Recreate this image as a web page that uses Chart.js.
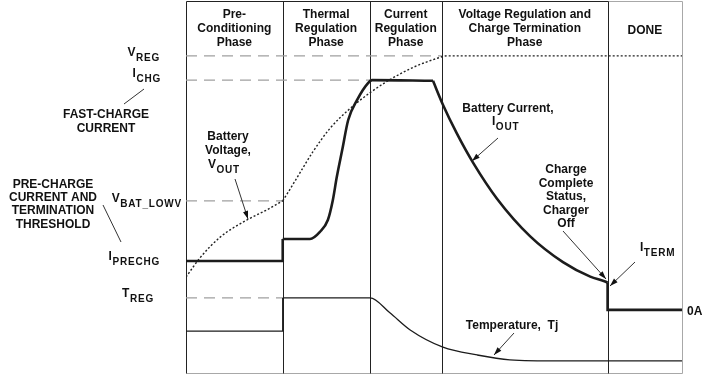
<!DOCTYPE html>
<html>
<head>
<meta charset="utf-8">
<script src="https://cdn.jsdelivr.net/npm/chart.js@4.4.1/dist/chart.umd.min.js"></script>
<style>
  html, body { margin: 0; padding: 0; background: #fff; }
  #wrap { width: 710px; height: 375px; position: relative; }
</style>
</head>
<body>
<div id="wrap"><canvas id="profile"></canvas></div>
<script>
// Time axis runs 0..100, level axis runs 0..100 (schematic units)
const phaseEdges = [0, 19.5, 37, 51.6, 85, 100];
const phaseTitles = [
    ["Pre-", "Conditioning", "Phase"],
    ["Thermal", "Regulation", "Phase"],
    ["Current", "Regulation", "Phase"],
    ["Voltage Regulation and", "Charge Termination", "Phase"],
    ["DONE"]
];

// Threshold levels and where their dashed guide stops
const levelMain = ["V", "I", "V", "I", "T"];
const levelSub = ["REG", "CHG", "BAT_LOWV", "PRECHG", "REG"];
const levelValues = [85.3, 78.8, 46.4, 30.3, 20.4];
const levelGuideEnd = [51.6, 37.5, 19.5, 0, 19.5];

// Battery current, I_OUT
const curPreX = [0, 19.5, 19.5];
const curPreY = [30.3, 30.3, 36.2];
const curRiseX = [19.5, 25, 27.0, 28.6, 29.6, 30.4, 31.5, 32.7, 34.5, 36.7, 37.5, 49.8];
const curRiseY = [36.2, 36.2, 38.1, 41.3, 46.6, 52.8, 60.1, 68.1, 73.5, 78.0, 78.8, 78.6];
const curTaperX = [49.8, 51.8, 54.6, 57.9, 62.7, 69.4, 76.0, 81.5, 84.5, 85];
const curTaperY = [78.6, 72.2, 64.5, 56.6, 47.0, 36.9, 30.0, 26.1, 24.8, 24.5];
const curDoneX = [85, 85, 100];
const curDoneY = [24.5, 17.2, 17.2];

// Battery voltage, V_OUT
const voltPreX = [0, 2.8, 6.9, 12.3, 16.3, 19.5];
const voltPreY = [26.0, 31.1, 36.7, 41.3, 44.0, 46.4];
const voltFastX = [19.5, 21.0, 23.0, 25.6, 29.0, 33.1, 37.1, 41.1, 45.8, 50.6, 52.6, 100];
const voltFastY = [46.4, 49.6, 54.0, 59.6, 65.8, 71.2, 75.4, 78.9, 82.2, 84.6, 85.3, 85.3];

// Temperature, Tj
const tempPreX = [0, 19.5, 19.5];
const tempPreY = [11.5, 11.5, 20.4];
const tempCoolX = [19.5, 37.1, 41.1, 45.2, 51.8, 58.7, 65.3, 75.4, 100];
const tempCoolY = [20.4, 20.4, 16.4, 11.8, 7.2, 5.1, 3.8, 3.5, 3.5];

function series(xs, ys, style) {
    return Object.assign({
        data: xs.map((x, i) => ({ x: x, y: ys[i] })),
        pointRadius: 0,
        fill: false,
        tension: 0
    }, style);
}

const thick = { borderColor: "#1c1c1c", borderWidth: 2.6 };
const thickCurve = { borderColor: "#1c1c1c", borderWidth: 2.6, cubicInterpolationMode: "monotone" };
const dotted = { borderColor: "#222", borderWidth: 1.4, borderDash: [2, 2], cubicInterpolationMode: "monotone" };
const thin = { borderColor: "#1c1c1c", borderWidth: 1.3 };
const thinCurve = { borderColor: "#1c1c1c", borderWidth: 1.3, cubicInterpolationMode: "monotone" };

const datasets = [
    series(curPreX, curPreY, thick),
    series(curRiseX, curRiseY, thickCurve),
    series(curTaperX, curTaperY, thickCurve),
    series(curDoneX, curDoneY, thick),
    series(voltPreX, voltPreY, dotted),
    series(voltFastX, voltFastY, dotted),
    series(tempPreX, tempPreY, thin),
    series(tempCoolX, tempCoolY, thinCurve)
];

// Dashed guides for the thresholds
levelValues.forEach((v, i) => {
    if (levelGuideEnd[i] > 0) {
        datasets.push(series([0, levelGuideEnd[i]], [v, v], {
            borderColor: "#a0a0a0", borderWidth: 1.3, borderDash: [11, 7]
        }));
    }
});

const BOLD = "bold 12px 'Liberation Sans', Arial, sans-serif";
const SUB = "bold 10px 'Liberation Sans', Arial, sans-serif";

function text(ctx, s, x, y, align, font) {
    ctx.font = font || BOLD;
    ctx.textAlign = align || "center";
    ctx.textBaseline = "alphabetic";
    ctx.fillText(s, x, y);
}

// letter with a subscript, x = left edge
function subText(ctx, main, sub, x, y) {
    ctx.font = BOLD;
    ctx.letterSpacing = "0px";
    ctx.textAlign = "left";
    ctx.fillText(main, x, y);
    const w = ctx.measureText(main).width;
    ctx.font = SUB;
    ctx.letterSpacing = "0.8px";
    ctx.fillText(sub, x + w + 0.5, y + 5);
    ctx.letterSpacing = "0px";
}

function subWidth(ctx, main, sub) {
    ctx.font = BOLD;
    const w = ctx.measureText(main).width;
    ctx.font = SUB;
    ctx.letterSpacing = "0.8px";
    const w2 = ctx.measureText(sub).width;
    ctx.letterSpacing = "0px";
    return w + 0.5 + w2;
}

function line(ctx, x1, y1, x2, y2) {
    ctx.beginPath();
    ctx.moveTo(x1, y1);
    ctx.lineTo(x2, y2);
    ctx.stroke();
}

function arrow(ctx, x1, y1, x2, y2) {
    line(ctx, x1, y1, x2, y2);
    const a = Math.atan2(y2 - y1, x2 - x1);
    ctx.beginPath();
    ctx.moveTo(x2, y2);
    ctx.lineTo(x2 - 8 * Math.cos(a) + 2.6 * Math.sin(a), y2 - 8 * Math.sin(a) - 2.6 * Math.cos(a));
    ctx.lineTo(x2 - 8 * Math.cos(a) - 2.6 * Math.sin(a), y2 - 8 * Math.sin(a) + 2.6 * Math.cos(a));
    ctx.closePath();
    ctx.fill();
}

const framePlugin = {
    id: "frame",
    beforeDatasetsDraw(chart) {
        const { ctx, chartArea: a, scales: { x } } = chart;
        const px = v => Math.round(x.getPixelForValue(v)) + 0.5;
        const top = Math.round(a.top) + 0.5;
        const bottom = Math.round(a.bottom) - 0.5;
        ctx.save();
        ctx.lineWidth = 1;
        ctx.strokeStyle = "#a8a8a8";
        line(ctx, px(85), top, px(100), top);
        line(ctx, px(100), top, px(100), bottom);
        line(ctx, px(0), bottom, px(100), bottom);
        ctx.strokeStyle = "#222";
        line(ctx, px(0), top, px(85), top);
        for (let i = 0; i < phaseEdges.length - 1; i++) {
            line(ctx, px(phaseEdges[i]), top, px(phaseEdges[i]), bottom);
        }
        ctx.restore();
    },
    afterDraw(chart) {
        const { ctx, scales: { x, y } } = chart;
        ctx.save();
        ctx.fillStyle = "#111";
        ctx.strokeStyle = "#333";
        ctx.lineWidth = 1;

        // phase headers
        phaseTitles.forEach((lines, i) => {
            const cx = (x.getPixelForValue(phaseEdges[i]) + x.getPixelForValue(phaseEdges[i + 1])) / 2;
            const y0 = lines.length === 1 ? 34 : 18;
            lines.forEach((s, j) => text(ctx, s, cx, y0 + j * 13.8));
        });

        // threshold names at the left
        const labelRight = [160, 161, 182, 160, 154];
        const labelDy = [0, -3, 1, -1, -1];
        levelValues.forEach((v, i) => {
            const w = subWidth(ctx, levelMain[i], levelSub[i]);
            subText(ctx, levelMain[i], levelSub[i], labelRight[i] - w, y.getPixelForValue(v) + labelDy[i]);
        });

        text(ctx, "FAST-CHARGE", 106, 118);
        text(ctx, "CURRENT", 106, 132);
        ["PRE-CHARGE", "CURRENT AND", "TERMINATION", "THRESHOLD"].forEach((s, j) => text(ctx, s, 53, 188 + j * 13.2));
        line(ctx, 144, 89, 124, 104);
        line(ctx, 103, 205, 121, 242);

        // curve callouts
        text(ctx, "Battery", 228, 140);
        text(ctx, "Voltage,", 228, 154);
        subText(ctx, "V", "OUT", 208, 168);
        arrow(ctx, 235, 179, 248, 219);

        text(ctx, "Battery Current,", 508, 112);
        subText(ctx, "I", "OUT", 492, 125);
        arrow(ctx, 498, 138, 472, 161);

        ["Charge", "Complete", "Status,", "Charger", "Off"].forEach((s, j) => text(ctx, s, 566, 173 + j * 13.5));
        arrow(ctx, 563, 231, 606, 279);

        subText(ctx, "I", "TERM", 640, 251);
        arrow(ctx, 635, 262, 610, 286);

        text(ctx, "0A", 687, 315, "left");

        text(ctx, "Temperature,  Tj", 512, 329);
        arrow(ctx, 514, 333, 494, 355);
        ctx.restore();
    }
};

new Chart(document.getElementById("profile").getContext("2d"), {
    type: "line",
    data: { datasets: datasets },
    options: {
        responsive: true,
        maintainAspectRatio: false,
        animation: false,
        events: [],
        layout: { padding: { left: 186, right: 28, top: 1, bottom: 1 } },
        plugins: { legend: { display: false }, tooltip: { enabled: false } },
        scales: {
            x: { type: "linear", min: 0, max: 100, display: false },
            y: { type: "linear", min: 0, max: 100, display: false }
        }
    },
    plugins: [framePlugin]
});
</script>
</body>
</html>
